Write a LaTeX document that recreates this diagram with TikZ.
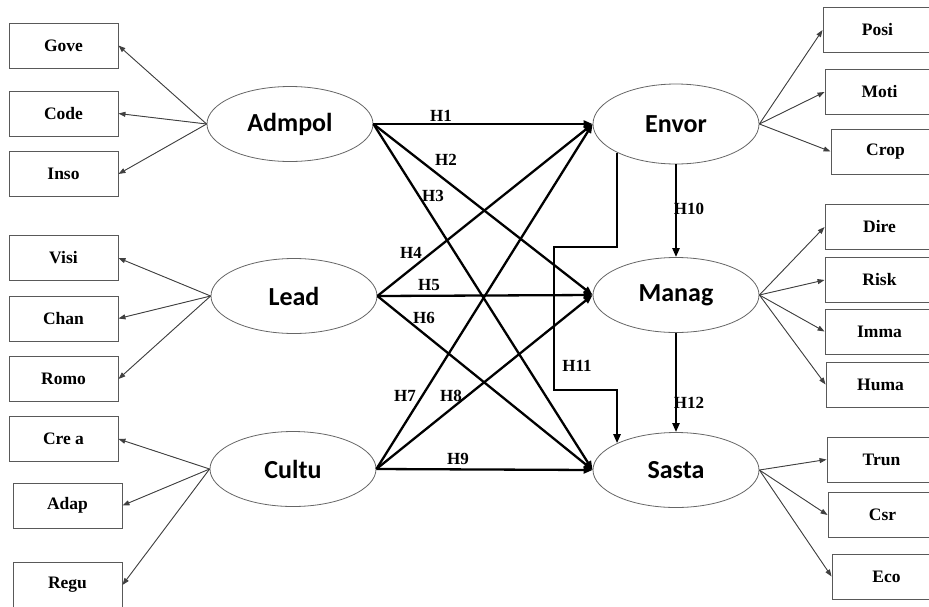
\documentclass[tikz,border=0pt]{standalone}
\usepackage{fontspec}
\setmainfont{Liberation Serif}
\newfontfamily\latfont{Carlito}
\usetikzlibrary{arrows.meta,shapes.geometric}
\begin{document}
\begin{tikzpicture}[x=1pt,y=-1pt,
 ind/.style={draw=black!65, line width=0.9pt, minimum width=109pt, minimum height=45pt, inner sep=0pt, font=\fontsize{17.5}{19}\selectfont\bfseries},
 lat/.style={ellipse, draw=black!60, line width=0.8pt, minimum width=166pt, minimum height=75pt, inner sep=0pt, font=\latfont\fontsize{26}{28}\selectfont\bfseries},
 loadarrow/.style={-{Triangle[length=7pt,width=5pt]}, line width=0.9pt, draw=black!75, fill=black!75},
 hyparrow/.style={-{Triangle[length=9pt,width=7pt]}, line width=2.3pt},
 hl/.style={font=\fontsize{17}{19}\selectfont\bfseries, inner sep=0pt}]
\clip (0,0) rectangle (929,606);
% latent variables
\node[lat] (adm) at (290,124) {Admpol};
\node[lat] (lead) at (294,296) {Lead};
\node[lat] (cul) at (293,469) {Cultu};
\node[lat, minimum height=80pt] (env) at (676,124) {Envor};
\node[lat] (man) at (676,295) {Manag};
\node[lat] (sas) at (676,470) {Sasta};
% left indicators
\node[ind] (gove) at (63.5,45.5) {Gove};
\node[ind] (code) at (63.5,113.5) {Code};
\node[ind] (inso) at (63.5,174) {Inso};
\node[ind] (visi) at (63.5,258) {Visi};
\node[ind] (chan) at (63.5,318.5) {Chan};
\node[ind] (romo) at (63.5,379) {Romo};
\node[ind] (crea) at (63.5,439) {Cre a};
\node[ind] (adap) at (67.5,505.5) {Adap};
\node[ind] (regu) at (67.5,585) {Regu};
% right indicators
\node[ind] (posi) at (877.5,30) {Posi};
\node[ind] (moti) at (879.5,92) {Moti};
\node[ind] (crop) at (885.5,151.5) {Crop};
\node[ind] (dire) at (879.5,227) {Dire};
\node[ind] (risk) at (879.5,280) {Risk};
\node[ind] (imma) at (879.5,331.5) {Imma};
\node[ind] (huma) at (880.5,384.5) {Huma};
\node[ind] (trun) at (881.5,459.5) {Trun};
\node[ind] (csr) at (882.5,515) {Csr};
\node[ind] (eco) at (886.5,576.5) {Eco};
% loadings
\foreach \a/\b in {adm/gove,adm/code,adm/inso,lead/visi,lead/chan,lead/romo,cul/crea,cul/adap,cul/regu}
  \draw[loadarrow] (\a.west) -- (\b.east);
\foreach \a/\b in {env/posi,env/moti,env/crop,man/dire,man/risk,man/imma,man/huma,sas/trun,sas/csr,sas/eco}
  \draw[loadarrow] (\a.east) -- (\b.west);
% hypotheses
\foreach \a in {adm,lead,cul}
  \foreach \b in {env,man,sas}
    \draw[hyparrow] (\a.east) -- (\b.west);
\draw[hyparrow] (env.south) -- (man.north);
\draw[hyparrow] (man.south) -- (sas.north);
\coordinate (h11a) at (554,247);
\coordinate (h11b) at (554,390);
\draw[hyparrow] (env.south west) |- (h11a) -- (h11b) -| (sas.north west);
% labels
\node[hl] (l1) at (441,116) {H1};
\node[hl] (l2) at (446,160) {H2};
\node[hl] (l3) at (433,196) {H3};
\node[hl] (l4) at (411,253) {H4};
\node[hl] (l5) at (429,285) {H5};
\node[hl] (l6) at (424,318) {H6};
\node[hl] (l7) at (405,396) {H7};
\node[hl] (l8) at (451,396) {H8};
\node[hl] (l9) at (458,459) {H9};
\node[hl] (l10) at (689,209) {H10};
\node[hl] (l11) at (577,366) {H11};
\node[hl] (l12) at (689,403) {H12};
\end{tikzpicture}
\end{document}
